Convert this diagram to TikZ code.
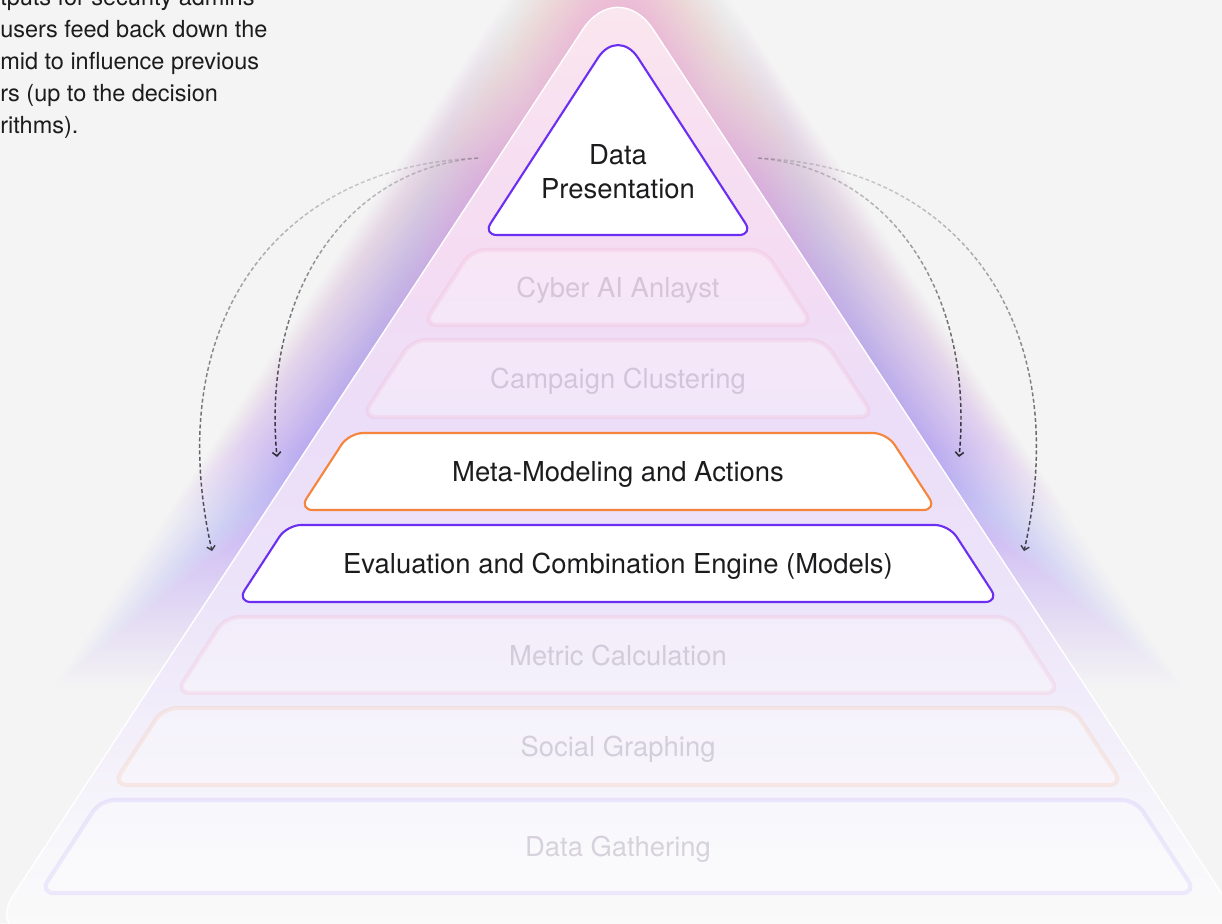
\documentclass[tikz,border=0pt]{standalone}
\usepackage{fontspec}
\setmainfont{TeX Gyre Heros}
\usepackage{tikz}
\usetikzlibrary{arrows.meta}
\usetikzlibrary{fadings}
\usepackage{xcolor}

\definecolor{bgc}{HTML}{F4F4F4}
\definecolor{ink}{HTML}{1C1C1E}
\definecolor{presentpurple}{HTML}{6C2EF2}
\definecolor{metaorange}{HTML}{F5843C}
\definecolor{ghostc}{HTML}{8E8099}
\definecolor{ghostpink}{HTML}{F2A2C2}
\definecolor{ghostorange}{HTML}{F5B08A}
\definecolor{ghostpurple}{HTML}{B29AF8}
\definecolor{arcc}{HTML}{2A2A32}
\definecolor{glowlav}{HTML}{D8CAF5}
\definecolor{glowpurple}{HTML}{B294F0}
\definecolor{glowviolet}{HTML}{C898E6}
\definecolor{glowmagenta}{HTML}{E49ADA}
\definecolor{glowpink}{HTML}{EEBCD6}
\definecolor{glowpeach}{HTML}{F1D8D8}
\definecolor{pyrA}{HTML}{FAFAFA}
\definecolor{pyrB}{HTML}{F8F8FB}
\definecolor{pyrC}{HTML}{F2EEFA}
\definecolor{pyrD}{HTML}{ECE4F9}
\definecolor{pyrE}{HTML}{ECDDF8}
\definecolor{pyrF}{HTML}{F5DCF3}
\definecolor{pyrG}{HTML}{F8E1F0}
\definecolor{pyrH}{HTML}{FBE8EE}

\pgfdeclareverticalshading{glowshade}{100bp}{color(0bp)=(bgc); color(40bp)=(bgc);
  color(45bp)=(glowlav); color(50bp)=(glowpurple); color(57bp)=(glowviolet);
  color(63bp)=(glowmagenta); color(69bp)=(glowpink); color(75bp)=(glowpeach); color(100bp)=(glowpeach)}
\pgfdeclareverticalshading{pyramidshade}{100bp}{color(0bp)=(pyrA); color(25bp)=(pyrA);
  color(29bp)=(pyrB); color(36bp)=(pyrC); color(42.5bp)=(pyrD); color(52bp)=(pyrE);
  color(60.7bp)=(pyrF); color(68.5bp)=(pyrG); color(75bp)=(pyrH); color(100bp)=(pyrH)}
\tikzfading[name=fade up, top color=transparent!80, middle color=transparent!15, bottom color=transparent!0]

\begin{document}
\begin{tikzpicture}[x=0.025cm, y=0.025cm,
  tier/.style={font=\fontsize{19.5}{24.2}\selectfont, text=ink, inner sep=0pt, anchor=base},
  ghost/.style={tier, text=ghostc, text opacity=.32},
  main layer/.style={fill=white, line width=1.5pt, rounded corners=0.35cm},
  ghost layer/.style={rounded corners=0.35cm, line width=3pt, draw opacity=.18, fill=white, fill opacity=.3},
  feedback/.style={-{Straight Barb[length=2.8pt,width=6pt]}, draw=arcc, dash pattern=on 2.8pt off 1.8pt, line width=1.05pt, path fading=fade up},
  note/.style={font=\fontsize{16.7}{22.8}\selectfont, text=ink, inner sep=0pt, anchor=base west}]

\useasboundingbox (0,0) rectangle (1222,-923);
\clip (0,0) rectangle (1222,-923);
\fill[bgc] (0,0) rectangle (1222,-923);

% soft glow round the pyramid
\foreach \s in {1.005,1.01,...,1.28}
  \shade[shading=glowshade, opacity=.017, scale around={\s:(618,-500)}]
    (-13,-935) [rounded corners=1.6cm] -- (618,24) [rounded corners=1.2cm] -- (1249,-935) -- cycle;

% pyramid body
\shadedraw[shading=pyramidshade, draw=white, line width=1pt]
  (-13,-935) [rounded corners=1.6cm] -- (618,24) [rounded corners=1.2cm] -- (1249,-935) -- cycle;

% blurred layers
\foreach \yt/\yb/\hw/\edge/\name/\txt in {
  250/325/195/ghostpink/analyst/Cyber AI Anlayst,
  340/417/256/ghostpink/cluster/Campaign Clustering,
  617/693/442/ghostpink/metric/Metric Calculation,
  708/785/505/ghostorange/social/Social Graphing,
  800/893/578/ghostpurple/gather/Data Gathering}
{
  \draw[ghost layer, draw=\edge] ({618-\hw+0.65*(\yb-\yt)},-\yt) -- ({618+\hw-0.65*(\yb-\yt)},-\yt)
    -- (618+\hw,-\yb) -- (618-\hw,-\yb) -- cycle;
  \node[ghost] (\name) at (618,{-(\yt+\yb)/2-10}) {\txt};
}

% sharp layers
\draw[main layer, draw=presentpurple] (483,-235) [rounded corners=0.92cm] -- (618,-27) [rounded corners=0.35cm] -- (753,-235) -- cycle;
\node[tier, anchor=center, align=center] (present) at (618,-172) {Data\\Presentation};

\foreach \yt/\yb/\hw/\edge/\name/\txt in {
  433/510/319/metaorange/meta/Meta-Modeling and Actions,
  525/602/381/presentpurple/engine/Evaluation and Combination Engine (Models)}
{
  \draw[main layer, draw=\edge] ({618-\hw+0.65*(\yb-\yt)},-\yt) -- ({618+\hw-0.65*(\yb-\yt)},-\yt)
    -- (618+\hw,-\yb) -- (618-\hw,-\yb) -- cycle;
  \node[tier] (\name) at (618,{-(\yt+\yb)/2-10}) {\txt};
}

% feedback arcs
\coordinate (srcL) at (478,-158);
\coordinate (srcR) at (758,-158);
\coordinate (metaL) at (277,-457);
\coordinate (metaR) at (959,-457);
\coordinate (engineL) at (212,-551);
\coordinate (engineR) at (1024,-551);

\draw[feedback] (srcL) .. controls (340,-170) and (262,-300) .. (metaL);
\draw[feedback] (srcR) .. controls (896,-170) and (974,-300) .. (metaR);
\draw[feedback, draw=arcc!90] (srcL) .. controls (280,-165) and (160,-320) .. (engineL);
\draw[feedback, draw=arcc!90] (srcR) .. controls (956,-165) and (1076,-320) .. (engineR);

% side note
\foreach \ln [count=\i] in {tputs for security admins, users feed back down the,
  mid to influence previous, {rs (up to the decision}, {rithms).}}
  \node[note] (note\i) at (0,{-5-32*(\i-1)}) {\ln};

\end{tikzpicture}
\end{document}
